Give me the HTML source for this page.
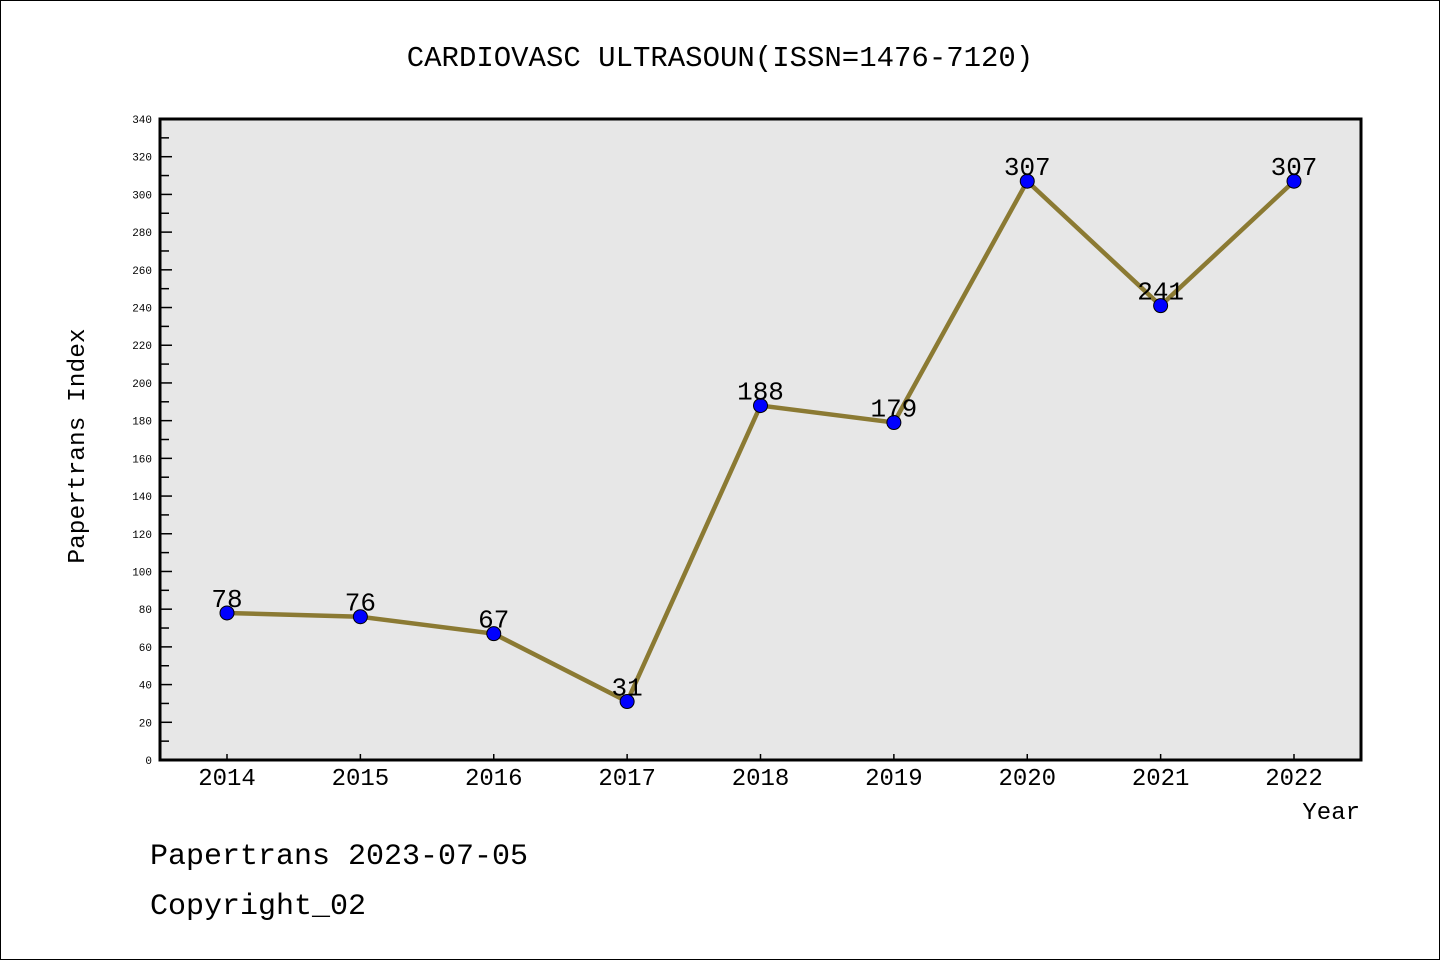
<!DOCTYPE html>
<html><head><meta charset="utf-8"><style>
body{margin:0;background:#fff}
svg text{font-family:"Liberation Mono","DejaVu Sans Mono",monospace;fill:#000}
</style></head><body>
<svg id="c" width="1440" height="960" viewBox="0 0 1440 960">
<rect x="0.5" y="0.5" width="1439" height="959" fill="#fff" stroke="#000"/>
<text x="720" y="66" font-size="29" text-anchor="middle">CARDIOVASC ULTRASOUN(ISSN=1476-7120)</text>
<rect x="160" y="119" width="1201" height="641" fill="#e7e7e7" stroke="#000" stroke-width="3"/>
<g id="yt"></g><g id="xt"></g><g id="series"></g>
<text transform="translate(84,446) rotate(-90)" font-size="24.5" text-anchor="middle">Papertrans Index</text>
<text x="1360" y="819" font-size="24" text-anchor="end">Year</text>
<text x="150" y="864" font-size="30">Papertrans 2023-07-05</text>
<text x="150" y="914" font-size="30">Copyright_02</text>
</svg>
<script>
const years=[2014,2015,2016,2017,2018,2019,2020,2021,2022];
const values=[78,76,67,31,188,179,307,241,307];
const yTicks=[0,20,40,60,80,100,120,140,160,180,200,220,240,260,280,300,320,340];
const NS="http://www.w3.org/2000/svg";
const y=v=>760-v*(641/340);
const x=i=>227+i*(1294-227)/(years.length-1);
function mk(t,a,p){const e=document.createElementNS(NS,t);for(const k in a)e.setAttribute(k,a[k]);p.appendChild(e);return e;}
const yt=document.getElementById('yt'),xt=document.getElementById('xt'),sg=document.getElementById('series');
yTicks.forEach((v,i)=>{
 const l=mk('line',{x1:160,x2:172,y1:y(v),y2:y(v),stroke:'#000','stroke-width':1.5},yt);
 
 
 const t=mk('text',{x:152,y:y(v)+4,'font-size':11,'text-anchor':'end'},yt);
 t.textContent=v;
 
 
 if(i<yTicks.length-1){const m=mk('line',{x1:160,x2:169,y1:y(v+10),y2:y(v+10),stroke:'#000','stroke-width':1.5},yt);
 
 }
});
years.forEach((yr,i)=>{
 const l=mk('line',{x1:x(i),x2:x(i),y1:760,y2:754,stroke:'#000','stroke-width':1.5},xt);
 
 
 const t=mk('text',{x:x(i),y:785,'font-size':24,'text-anchor':'middle'},xt);
 t.textContent=yr;
 
 
});
const pl=mk('polyline',{points:values.map((v,i)=>x(i)+','+y(v)).join(' '),fill:'none',stroke:'#8b7a33','stroke-width':4.5},sg);


values.forEach((v,i)=>{
 const c=mk('circle',{cx:x(i),cy:y(v),r:7,fill:'#0000ff',stroke:'#000','stroke-width':1},sg);
 
 
 const t=mk('text',{x:x(i),y:y(v)-6,'font-size':26,'text-anchor':'middle'},sg);
 t.textContent=v;
 
 
});
</script>
</body></html>
